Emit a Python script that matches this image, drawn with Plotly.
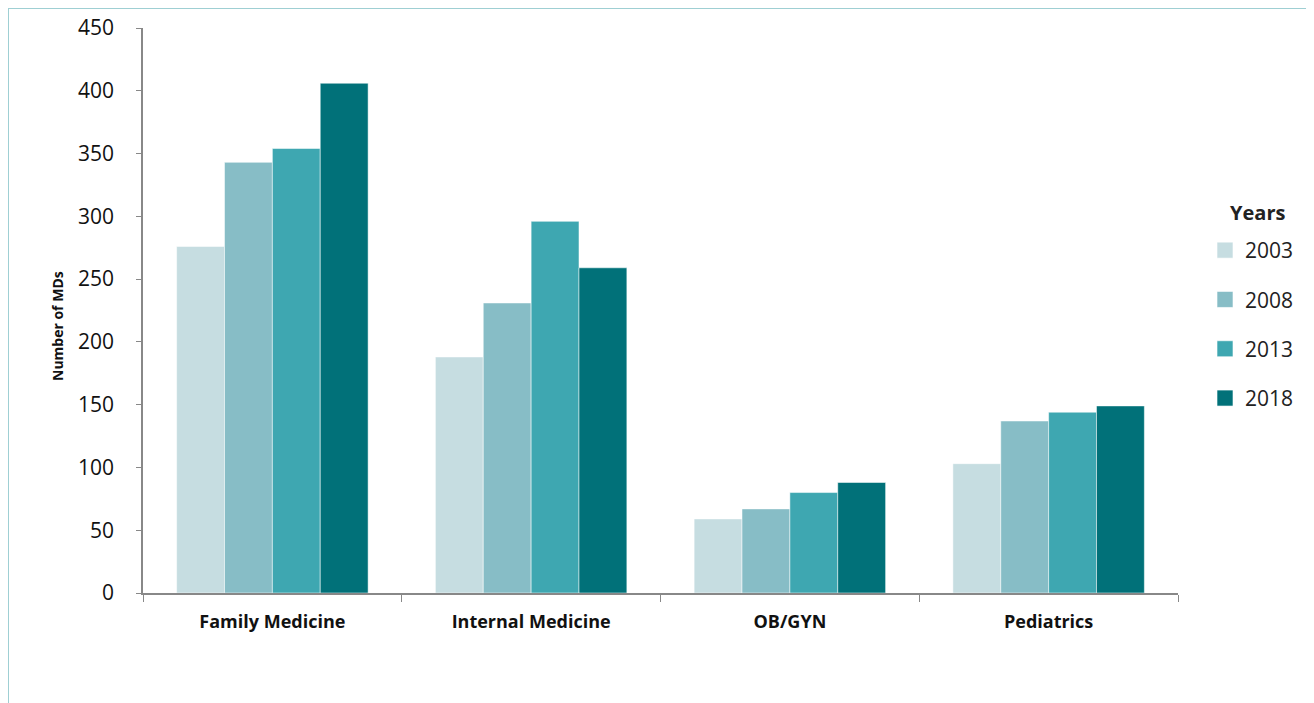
import plotly.graph_objects as go

categories = ["Family Medicine", "Internal Medicine", "OB/GYN", "Pediatrics"]
years = ["2003", "2008", "2013", "2018"]
v2003 = [276, 188, 59, 103]
v2008 = [343, 231, 67, 137]
v2013 = [354, 296, 80, 144]
v2018 = [406, 259, 88, 149]
series = [v2003, v2008, v2013, v2018]
colors = ["#C6DDE1", "#87BDC6", "#3EA7B1", "#017179"]

FONT = "Open Sans, Liberation Sans, sans-serif"
L, R, T, B = 135, 144, 20, 118
PW, PH = 1314 - L - R, 703 - T - B


def px(xs):  # screen x -> paper x
    return (xs - 8 - L) / PW


def py(ys):  # screen y -> paper y
    return (PH - (ys - 8 - T)) / PH


fig = go.Figure()
for yr, vals, col in zip(years, series, colors):
    fig.add_trace(go.Bar(
        x=categories, y=vals, name=yr, legendgroup=yr, showlegend=False,
        marker=dict(color=col, line=dict(color="rgba(255,255,255,0.5)", width=1)),
    ))
    # legend proxy (square swatch)
    fig.add_trace(go.Scatter(
        x=[categories[0]], y=[None], name=yr, legendgroup=yr, mode="markers",
        marker=dict(symbol="square", size=16, color=col,
                    line=dict(color="rgba(255,255,255,0.6)", width=1)),
        hoverinfo="skip",
    ))

fig.update_layout(
    width=1314, height=703,
    paper_bgcolor="white", plot_bgcolor="white",
    margin=dict(l=L, r=R, t=T, b=B, autoexpand=False),
    barmode="group", bargap=0.26, bargroupgap=0,
    font=dict(family=FONT, color="#222222"),
    legend=dict(
        x=px(1205), y=py(230), xanchor="left", yanchor="top",
        font=dict(size=21, color="#222222", family=FONT),
        traceorder="grouped", tracegroupgap=19,
        itemwidth=30, itemsizing="trace",
    ),
    xaxis=dict(
        automargin=False,
        showline=True, linecolor="#888888", linewidth=1.5,
        ticks="outside", tickson="boundaries", ticklen=7, tickcolor="#888888",
        ticklabelstandoff=12,
        tickfont=dict(size=18, family=FONT, color="#111111"),
        showgrid=False,
    ),
    yaxis=dict(
        automargin=False,
        range=[0, 450], dtick=50,
        showline=True, linecolor="#888888", linewidth=1.5,
        ticks="outside", ticklen=5, tickcolor="#888888",
        ticklabelstandoff=18,
        tickfont=dict(size=21, color="#111111"),
        showgrid=False, zeroline=False,
    ),
)
fig.update_xaxes(tickvals=categories, ticktext=["<b>%s</b>" % c for c in categories])

fig.add_annotation(xref="paper", yref="paper", x=px(1257), y=py(212),
                   text="<b>Years</b>", showarrow=False, xanchor="center", yanchor="middle",
                   font=dict(size=20, color="#222222", family=FONT))
fig.add_annotation(xref="paper", yref="paper", x=px(57), y=py(326),
                   text="<b>Number of MDs</b>", showarrow=False, textangle=-90,
                   xanchor="center", yanchor="middle",
                   font=dict(size=14, color="#111111", family=FONT))

# light teal frame at the left and top edges
fx = -L / PW
fy = (PH + T) / PH
fig.add_shape(type="line", xref="paper", yref="paper",
              x0=fx, x1=fx, y0=-B / PH, y1=fy,
              line=dict(color="#9FCFD3", width=2))
fig.add_shape(type="line", xref="paper", yref="paper",
              x0=fx, x1=(PW + R) / PW, y0=fy, y1=fy,
              line=dict(color="#9FCFD3", width=2))

fig.write_html("out.html")
